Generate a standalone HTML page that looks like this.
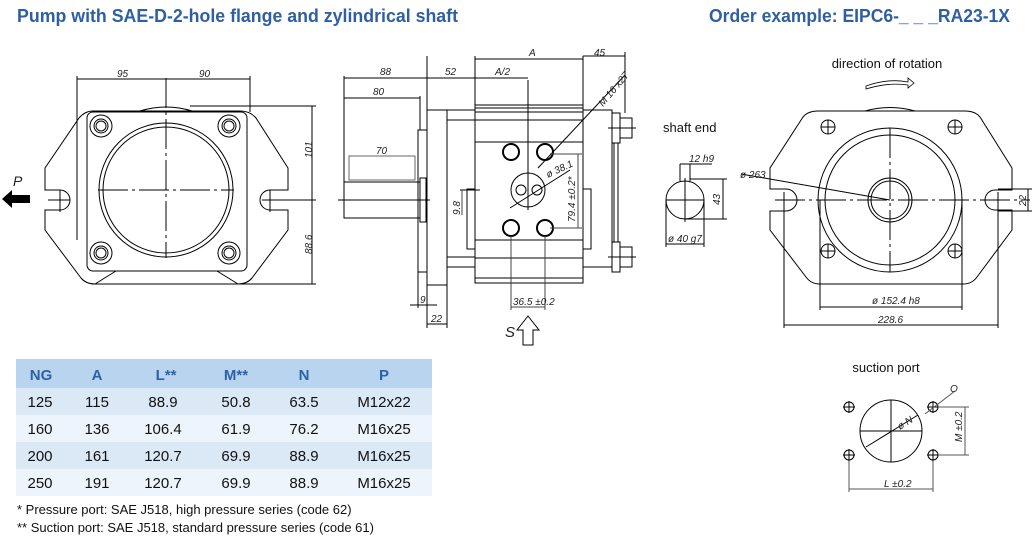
<!DOCTYPE html>
<html><head><meta charset="utf-8"><style>
html,body{margin:0;padding:0;background:#fff;}
svg{display:block}
.d{font-family:"Liberation Sans",sans-serif;font-style:italic;font-size:10px;fill:#222}
.t{font-family:"Liberation Sans",sans-serif;font-size:13px;fill:#111}
.tb{font-family:"Liberation Sans",sans-serif;font-size:15px;fill:#111}
.th{font-family:"Liberation Sans",sans-serif;font-size:15px;font-weight:bold;fill:#2d62a8}
</style></head><body>
<svg width="1034" height="542" viewBox="0 0 1034 542" xmlns="http://www.w3.org/2000/svg">
<g font-family="Liberation Sans,sans-serif" font-weight="bold" font-size="18" fill="#2e5fa3">
<text x="17" y="22" textLength="441" lengthAdjust="spacingAndGlyphs">Pump with SAE-D-2-hole flange and zylindrical shaft</text>
<text x="709" y="22" textLength="301" lengthAdjust="spacingAndGlyphs">Order example: EIPC6-_ _ _RA23-1X</text>
</g>

<g fill="none" stroke="#000" stroke-width="1">
<!-- LEFT VIEW -->
<path d="M93,111 L240,111 Q250,111 256,118 L288,168 L288,190 L270,190 A10,10 0 0 0 270,210 L288,210 L288,230 L252,278 Q247,284 238,284 L95,284 Q86,284 81,278 L45,230 L45,210 L60,210 A10,10 0 0 0 60,190 L45,190 L45,168 L79,118 Q85,111 93,111 Z"/>
<path d="M140,111 Q166,103 192,111"/>
<rect x="87" y="112" width="160" height="159" rx="6"/>
<path d="M95,284 L116,271 M238,284 L217,271" />
<circle cx="166" cy="190" r="67"/><circle cx="166" cy="190" r="63"/>
<circle cx="101" cy="126" r="11"/><circle cx="101" cy="126" r="7"/><circle cx="101" cy="126" r="5"/>
<circle cx="229" cy="126" r="11"/><circle cx="229" cy="126" r="7"/><circle cx="229" cy="126" r="5"/>
<circle cx="101" cy="253" r="11"/><circle cx="101" cy="253" r="7"/><circle cx="101" cy="253" r="5"/>
<circle cx="229" cy="253" r="11"/><circle cx="229" cy="253" r="7"/><circle cx="229" cy="253" r="5"/>
<path d="M166,78 L166,258 M98,190 L234,190" stroke-dasharray="30,4,3,4"/>
<path d="M77,76 L77,240 M250,76 L250,112 M77,79 L250,79 M48,200 L70,200 M262,200 L316,200 M190,106 L316,106 M240,284 L316,284 M312,106 L312,284 M60,190 L60,212 M270,190 L270,212"/>
</g>
<text class="d" x="117" y="77">95</text><text class="d" x="199" y="77">90</text>
<text class="d" transform="translate(312,158) rotate(-90)">101</text>
<text class="d" transform="translate(312,254) rotate(-90)">88.6</text>
<path d="M2,199 L12,190 L12,195 L30,195 L30,203 L12,203 L12,208 Z" fill="#000"/>
<text x="13" y="186" font-family="Liberation Sans,sans-serif" font-style="italic" font-size="14" fill="#222">P</text>

<!-- MIDDLE VIEW -->
<g fill="none" stroke="#000" stroke-width="1">
<rect x="344" y="182" width="76" height="36"/>
<rect x="349" y="156" width="66" height="24" stroke="#666"/>
<rect x="418" y="130" width="9" height="142"/>
<rect x="420" y="178" width="6" height="44"/>
<rect x="427" y="110" width="20" height="175"/>
<path d="M447,110 L475,110 M447,120 L475,120 M447,267 L475,267 M447,257 L475,257"/>
<rect x="447" y="110" width="165" height="157"/>
<rect x="467" y="189" width="8" height="60"/><rect x="583" y="189" width="8" height="60"/>
<rect x="475" y="105" width="108" height="178" fill="#fff"/>
<path d="M475,108 L583,108 M475,112 L583,112 M475,120 L583,120 M475,142 L583,142 M475,240 L583,240 M475,258 L583,258 M475,278 L583,278"/>
<rect x="612" y="113" width="8" height="30"/><rect x="620" y="118" width="12" height="20"/>
<rect x="612" y="242" width="8" height="30"/><rect x="620" y="247" width="12" height="20"/>
<path d="M614,143 L614,242 M618,143 L618,242 M608,128 L636,128 M608,257 L636,257"/>
<g stroke-width="2"><circle cx="511" cy="152" r="8"/><circle cx="545" cy="152" r="8"/><circle cx="511" cy="228" r="8"/><circle cx="545" cy="228" r="8"/></g>
<circle cx="528" cy="190" r="17"/><circle cx="521" cy="190" r="5"/><circle cx="537" cy="190" r="5"/>
<path d="M528,80 L528,210 M338,200 L430,200 M460,190 L480,190 M510,208 L570,170 M538,168 L625,75"/>
<path d="M344,76 L344,182 M344,78 L427,78 M427,56 L427,110 M427,78 L528,78 M475,56 L475,105 M475,59 L583,59 M583,56 L583,105 M583,56 L625,56 M625,52 L625,113 M344,98 L420,98 M420,96 L420,130"/>
<path d="M550,154 L582,154 M550,228 L582,228 M578,154 L578,228 M462,190 L462,215 M511,236 L511,310 M545,236 L545,310 M511,307 L545,307" stroke="#444"/>
<path d="M418,272 L418,308 M410,305 L437,305 M427,285 L427,328 M447,285 L447,328 M427,324 L447,324"/>
<path d="M523,345 L523,330 L517,330 L528,316 L539,330 L533,330 L533,345 Z"/>
</g>
<text class="d" x="380" y="75">88</text><text class="d" x="445" y="75">52</text><text class="d" x="495" y="75">A/2</text>
<text class="d" x="529" y="56">A</text><text class="d" x="594" y="56">45</text><text class="d" x="373" y="95">80</text>
<text class="d" x="376" y="154">70</text>
<text class="d" transform="translate(603,107) rotate(-50)">M 16 x27</text>
<text class="d" transform="translate(548,178) rotate(-25)">ø 38.1</text>
<text class="d" transform="translate(575,222) rotate(-90)">79.4 ±0.2*</text>
<text class="d" transform="translate(460,215) rotate(-90)">9.8</text>
<text class="d" x="513" y="305">36.5 ±0.2</text>
<text class="d" x="420" y="303">9</text><text class="d" x="431" y="322">22</text>
<text x="505" y="337" font-family="Liberation Sans,sans-serif" font-style="italic" font-size="15" fill="#222">S</text>

<!-- RIGHT: direction, shaft end -->
<text x="887" y="68" text-anchor="middle" class="t">direction of rotation</text>
<path d="M866,86 Q889,78 908,82 L908,78 L914,83 L908,88 L908,85 Q889,82 866,89 Z" fill="none" stroke="#000" stroke-width="0.8"/>
<text x="663" y="132" class="t">shaft end</text>
<g fill="none" stroke="#000" stroke-width="1">
<circle cx="685" cy="200" r="19"/>
<path d="M680,181 L680,164 M690,181 L690,164 M680,164 L712,164 M690,179 L727,179 M685,219 L727,219 M723,179 L723,219 M666,200 L704,200 M685,178 L685,222 M666,200 L666,247 M704,200 L704,247 M666,244 L704,244"/>
<!-- rear flange -->
<path d="M818,111 L965,111 Q975,111 980,117 L1012,168 L1012,190 L995,190 A10,10 0 0 0 995,210 L1012,210 L1012,230 L977,277 Q972,284 963,284 L820,284 Q811,284 806,277 L770,230 L770,211 L786,211 A10,10 0 0 0 786,189 L770,189 L770,168 L803,117 Q808,111 818,111 Z"/>
<path d="M865,111 Q890,104 915,111"/>
<circle cx="828" cy="127" r="7"/><circle cx="955" cy="127" r="7"/><circle cx="828" cy="251" r="7"/><circle cx="955" cy="251" r="7"/>
<path d="M821,127 L835,127 M828,120 L828,134 M948,127 L962,127 M955,120 L955,134 M821,251 L835,251 M828,244 L828,258 M948,251 L962,251 M955,244 L955,258"/>
<circle cx="890" cy="200" r="72"/><circle cx="890" cy="200" r="65"/>
<circle cx="890" cy="200" r="22"/><circle cx="890" cy="200" r="19"/>
<path d="M890,128 L890,272 M775,200 L1030,200" stroke-dasharray="30,4,3,4"/>
<path d="M741,174 L890,200 M820,200 L820,310 M962,200 L962,310 M820,307 L962,307 M784,192 L784,328 M998,192 L998,328 M784,325 L998,325 M998,189 L1032,189 M998,211 L1032,211 M1028,189 L1028,211"/>
</g>
<text class="d" x="740" y="178">ø 263</text>
<text class="d" x="689" y="162">12 h9</text>
<text class="d" transform="translate(720,205) rotate(-90)">43</text>
<text class="d" x="668" y="242">ø 40 g7</text>
<text class="d" x="872" y="304">ø 152.4 h8</text>
<text class="d" x="878" y="323">228.6</text>
<text class="d" transform="translate(1026,206) rotate(-90)">22</text>

<!-- suction port -->
<text x="886" y="372" text-anchor="middle" class="t">suction port</text>
<g fill="none" stroke="#000" stroke-width="1">
<circle cx="891" cy="431" r="31"/>
<path d="M891,400 L891,462 M860,431 L922,431 M866,447 L918,415"/>
<circle cx="849" cy="407" r="5"/><circle cx="933" cy="407" r="5"/><circle cx="849" cy="455" r="5"/><circle cx="933" cy="455" r="5"/>
<path d="M843,407 L855,407 M849,401 L849,413 M927,407 L939,407 M933,401 L933,413 M843,455 L855,455 M849,449 L849,461 M927,455 L939,455 M933,449 L933,461"/>
<path d="M925,414 L955,391 M938,407 L969,407 M938,455 L969,455 M965,407 L965,455 M849,461 L849,492 M933,461 L933,492 M849,489 L933,489" stroke="#555"/>
</g>
<text class="d" x="950" y="392">O</text>
<text class="d" transform="translate(900,430) rotate(-32)">ø N</text>
<text class="d" transform="translate(962,442) rotate(-90)">M ±0.2</text>
<text class="d" x="884" y="487">L ±0.2</text>

<!-- TABLE -->
<rect x="16" y="359" width="416" height="29" fill="#b9d4ef"/>
<rect x="16" y="388" width="416" height="27" fill="#dbe8f6"/>
<rect x="16" y="415" width="416" height="27" fill="#eef4fb"/>
<rect x="16" y="442" width="416" height="27" fill="#dbe8f6"/>
<rect x="16" y="469" width="416" height="27" fill="#eef4fb"/>
<g text-anchor="middle">
<text class="th" x="41" y="380">NG</text><text class="th" x="97" y="380">A</text><text class="th" x="166" y="380">L**</text><text class="th" x="236" y="380">M**</text><text class="th" x="304" y="380">N</text><text class="th" x="384" y="380">P</text>
<text class="tb" x="40" y="407">125</text><text class="tb" x="97" y="407">115</text><text class="tb" x="163" y="407">88.9</text><text class="tb" x="236" y="407">50.8</text><text class="tb" x="304" y="407">63.5</text><text class="tb" x="384" y="407">M12x22</text>
<text class="tb" x="40" y="434">160</text><text class="tb" x="97" y="434">136</text><text class="tb" x="163" y="434">106.4</text><text class="tb" x="236" y="434">61.9</text><text class="tb" x="304" y="434">76.2</text><text class="tb" x="384" y="434">M16x25</text>
<text class="tb" x="40" y="461">200</text><text class="tb" x="97" y="461">161</text><text class="tb" x="163" y="461">120.7</text><text class="tb" x="236" y="461">69.9</text><text class="tb" x="304" y="461">88.9</text><text class="tb" x="384" y="461">M16x25</text>
<text class="tb" x="40" y="488">250</text><text class="tb" x="97" y="488">191</text><text class="tb" x="163" y="488">120.7</text><text class="tb" x="236" y="488">69.9</text><text class="tb" x="304" y="488">88.9</text><text class="tb" x="384" y="488">M16x25</text>
</g>
<text class="t" x="17" y="514">*  Pressure port: SAE J518, high pressure series (code 62)</text>
<text class="t" x="17" y="532">** Suction port: SAE J518, standard pressure series (code 61)</text>
</svg>
</body></html>
